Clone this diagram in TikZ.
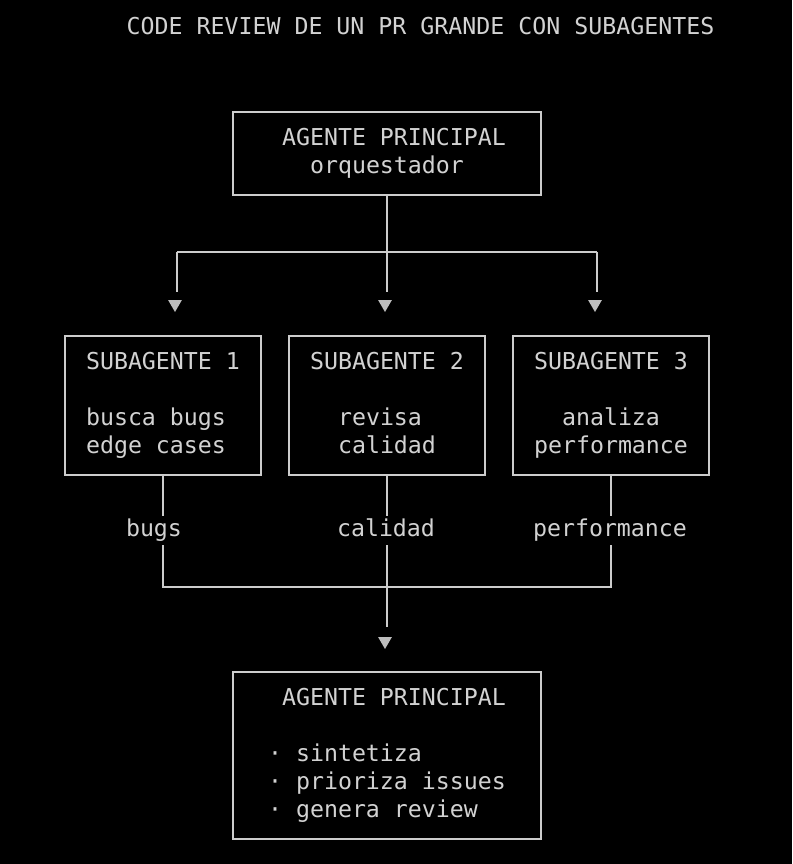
\documentclass[tikz,border=0pt]{standalone}
\usepackage{fontspec}
\setmonofont{DejaVu Sans Mono}
\usetikzlibrary{shapes.geometric}
\definecolor{fgline}{HTML}{CCCCCC}
\definecolor{fgtext}{HTML}{D2D2D2}
\definecolor{fgtri}{HTML}{BEBEBE}
\newcommand{\pad}{\phantom{x}}

\begin{document}
\begin{tikzpicture}[x=1pt, y=-1pt,
        every node/.style={font=\ttfamily\fontsize{23.25}{28}\selectfont, text=fgtext},
        box/.style={draw=fgline, line width=1.6pt, inner sep=0pt, align=left},
        tri/.style={regular polygon, regular polygon sides=3, shape border rotate=180,
                    fill=fgtri, inner sep=0pt, minimum size=16pt},
        lbl/.style={inner sep=0pt, minimum height=29pt, text height=17pt, text depth=5pt},
        wire/.style={draw=fgline, line width=1.6pt}]
    \fill[black] (0,0) rectangle (792,864);
    \useasboundingbox (0,0) rectangle (792,864);
    \path   node (title) at (420.5, 26) {CODE REVIEW DE UN PR GRANDE CON SUBAGENTES}
            node (top) at (387, 153.5) [box, minimum width=308, minimum height=83]
                {\pad AGENTE PRINCIPAL\\\pad\pad\pad orquestador}
            node (t1) at (175, 304) [tri] {}
            node (t2) at (385, 304) [tri] {}
            node (t3) at (595, 304) [tri] {}
            node (s1) at (163, 405.5) [box, minimum width=196, minimum height=139]
                {SUBAGENTE 1\\\mbox{}\\busca bugs\\edge cases}
            node (s2) at (387, 405.5) [box, minimum width=196, minimum height=139]
                {SUBAGENTE 2\\\mbox{}\\\pad\pad revisa\\\pad\pad calidad\vphantom{g}}
            node (s3) at (611, 405.5) [box, minimum width=196, minimum height=139]
                {SUBAGENTE 3\\\mbox{}\\\pad\pad analiza\\performance}
            node (l1) at (154, 530.5) [lbl] {bugs}
            node (l2) at (386, 530.5) [lbl] {calidad}
            node (l3) at (610, 530.5) [lbl] {performance}
            node (t4) at (385, 641) [tri] {}
            node (fin) at (387, 755.5) [box, minimum width=308, minimum height=167]
                {\pad AGENTE PRINCIPAL\\\mbox{}\\· sintetiza\\· prioriza issues\\· genera review};
    \coordinate (f1) at (177, 252);
    \coordinate (f2) at (387, 252);
    \coordinate (f3) at (597, 252);
    \coordinate (j) at (387, 587);
    % reparto hacia los subagentes
    \draw[wire] (top.south) -- (f2);
    \draw[wire] (f1) -- (f3);
    \draw[wire, shorten >=8pt] (f1) -- (f1 |- t1.north);
    \draw[wire, shorten >=8pt] (f2) -- (f2 |- t2.north);
    \draw[wire, shorten >=8pt] (f3) -- (f3 |- t3.north);
    % resultados de vuelta
    \draw[wire] (s1.south) -- (s1.south |- l1.north);
    \draw[wire] (s2.south) -- (s2.south |- l2.north);
    \draw[wire] (s3.south) -- (s3.south |- l3.north);
    \draw[wire] (s1.south |- l1.south) |- (j);
    \draw[wire] (s3.south |- l3.south) |- (j);
    \draw[wire] (s2.south |- l2.south) -- (j);
    \draw[wire, shorten >=10pt] (j) -- (j |- t4.north);
\end{tikzpicture}
\end{document}
